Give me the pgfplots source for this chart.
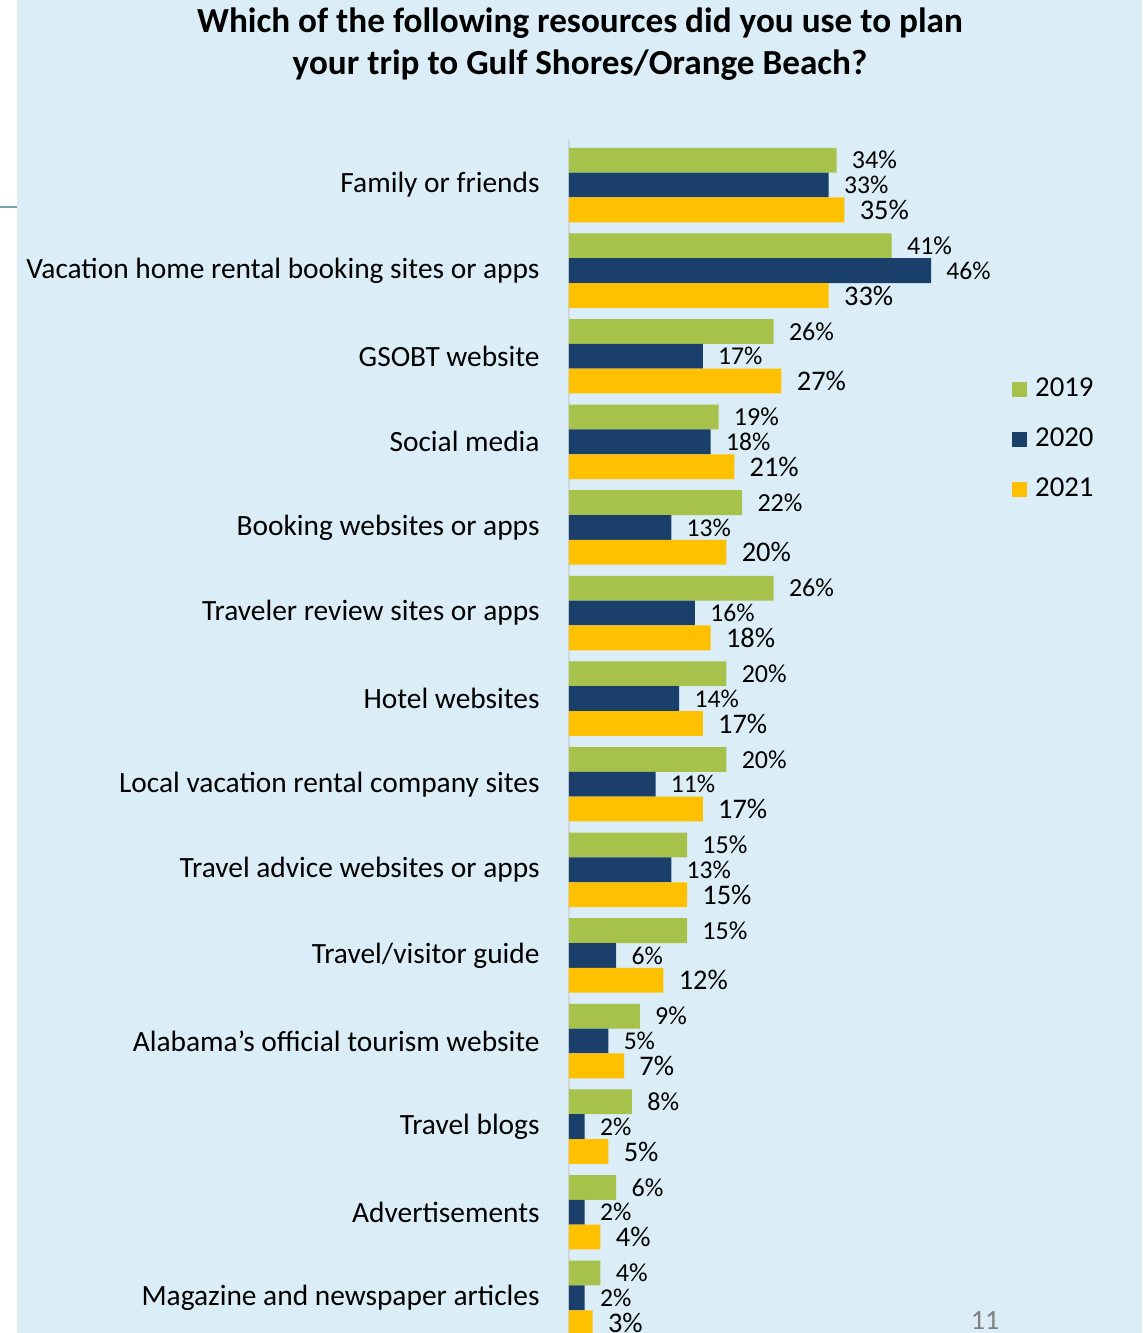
\documentclass[border=0pt]{standalone}
\usepackage{fontspec}
\setmainfont{Carlito}
\usepackage{pgfplots}
\pgfplotsset{compat=1.18}
\usepackage{pgfplotstable}

\definecolor{bg}{HTML}{DBEEF8}
\definecolor{g19}{HTML}{A6C24B}
\definecolor{n20}{HTML}{1A3F6B}
\definecolor{y21}{HTML}{FFC000}
\definecolor{axgray}{HTML}{D2D6DA}
\definecolor{tealline}{HTML}{6FA3AE}

\pgfplotstableread{
idx y2019 y2020 y2021
0 34 33 35
1 41 46 33
2 26 17 27
3 19 18 21
4 22 13 20
5 26 16 18
6 20 14 17
7 20 11 17
8 15 13 15
9 15 6 12
10 9 5 7
11 8 2 5
12 6 2 4
13 4 2 3
}\data

\begin{document}
\begin{tikzpicture}[x=0.5pt,y=-0.5pt]
\clip (0,0) rectangle (1142,1333);
\fill[white] (0,0) rectangle (1142,1333);
\fill[bg] (17,0) rectangle (1142,1333);
\draw[tealline, line width=1pt] (0,207) -- (17,207);
\node[font=\bfseries\fontsize{17.6}{21}\selectfont, align=center] at (580,44)
  {Which of the following resources did you use to plan\\your trip to Gulf Shores/Orange Beach?};
\node[text=gray, font=\fontsize{14}{14}\selectfont] at (985,1320) {11};
\coordinate (A) at (569,140);
\begin{axis}[
  at={(A)}, anchor=north west,
  x=3.935pt, y=42.8pt,
  xmin=0, xmax=60, ymin=-0.526, ymax=13.7,
  y dir=reverse,
  clip=false,
  /pgf/number format/assume math mode=true,
  axis x line=none,
  axis y line*=left,
  y axis line style={draw=axgray, line width=1.3pt},
  major tick length=0pt,
  xtick=\empty,
  ytick={0,1,2,3,4,5,6,7,8,9,10,11,12,13},
  yticklabels={Family or friends,Vacation home rental booking sites or apps,GSOBT website,Social media,Booking websites or apps,Traveler review sites or apps,Hotel websites,Local vacation rental company sites,Travel advice websites or apps,Travel/visitor guide,Alabama’s official tourism website,Travel blogs,Advertisements\hspace{3.5pt},Magazine and newspaper articles},
  yticklabel style={font=\fontsize{14.7}{15}\selectfont, inner sep=0pt, xshift=-14.5pt, anchor=east},
  xbar, bar width=0.29, bar shift=0pt,
  point meta=x,
  nodes near coords={\pgfmathprintnumber{\pgfplotspointmeta}\%},
  nodes near coords align={horizontal},
  every node near coord/.append style={anchor=west, inner sep=0pt, xshift=7.5pt, text=black},
  legend image code/.code={\fill[#1] (0pt,-3.75pt) rectangle (7.5pt,3.75pt);},
  legend style={at={(axis cs:55.5,2.04)}, anchor=north west, draw=none, fill=none,
    font=\fontsize{14.4}{14}\selectfont, row sep=0pt,
    nodes={inner sep=0pt, minimum height=25pt},
    /tikz/every odd column/.append style={column sep=4pt}},
  legend cell align=left,
]
\addplot[fill=g19, draw=none, every node near coord/.append style={font=\fontsize{13}{13}\selectfont}]
  table[x=y2019, y expr=\coordindex-0.29]{\data};
\addplot[fill=n20, draw=none, every node near coord/.append style={font=\fontsize{12.8}{13}\selectfont}]
  table[x=y2020, y expr=\coordindex]{\data};
\addplot[fill=y21, draw=none, every node near coord/.append style={font=\fontsize{14.2}{14}\selectfont}]
  table[x=y2021, y expr=\coordindex+0.29]{\data};
\legend{2019,2020,2021}
\end{axis}
\end{tikzpicture}
\end{document}
